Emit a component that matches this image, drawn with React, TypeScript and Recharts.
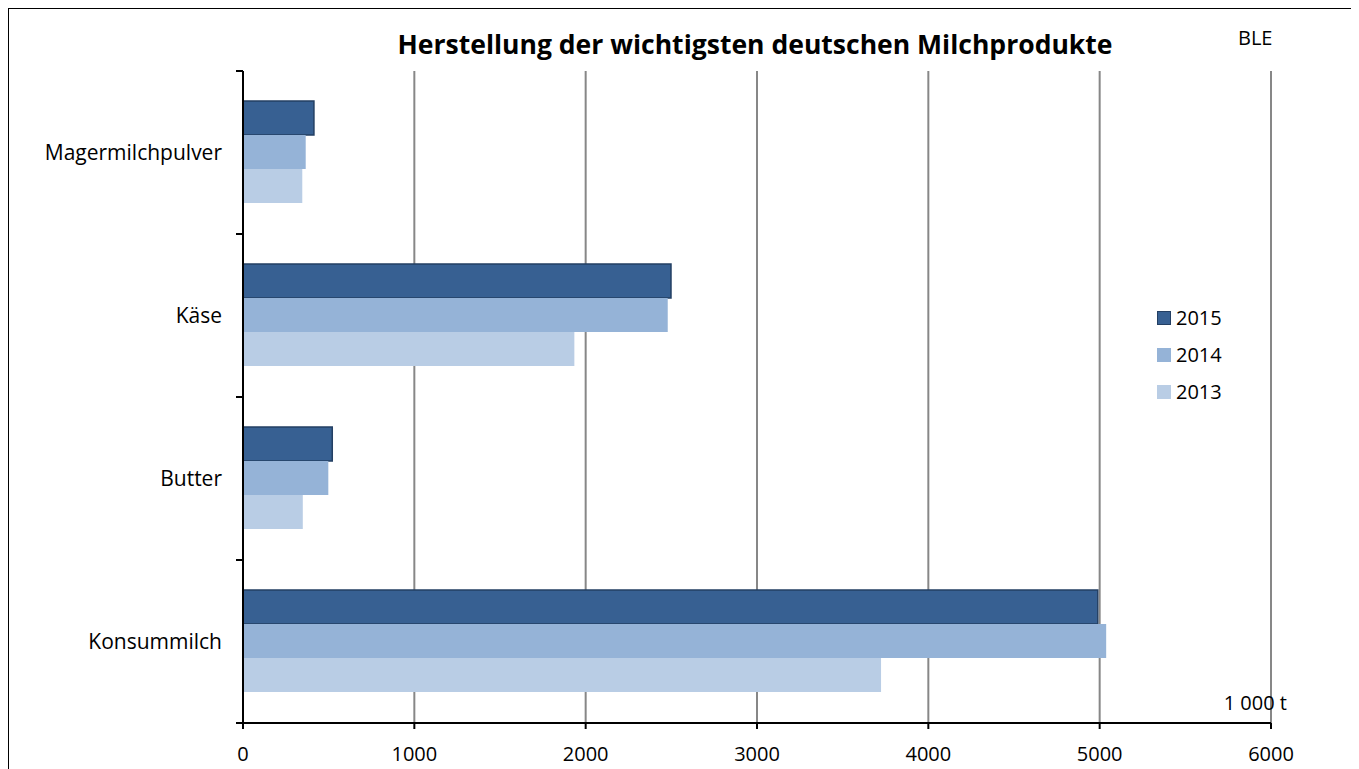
import React from 'react';
import { BarChart, Bar, XAxis, YAxis, CartesianGrid, Legend } from 'recharts';

const categories = ['Magermilchpulver', 'Käse', 'Butter', 'Konsummilch'];
const v2015 = [414, 2498, 521, 4989];
const v2014 = [366, 2479, 498, 5038];
const v2013 = [346, 1934, 349, 3724];
const years = ['2015', '2014', '2013'];
const xTicks = [0, 1000, 2000, 3000, 4000, 5000, 6000];
const title = 'Herstellung der wichtigsten deutschen Milchprodukte';
const sourceLabel = 'BLE';
const unitLabel = '1 000 t';

const colors: Record<string, string> = { '2015': '#376092', '2014': '#95B3D7', '2013': '#B9CDE5' };
const strokes: Record<string, string> = { '2015': '#233f63', '2014': 'none', '2013': 'none' };

const data = categories.map((c, i) => ({ name: c, '2015': v2015[i], '2014': v2014[i], '2013': v2013[i] }));

const FONT = '"Open Sans", sans-serif';
const TICK_MARGIN = 21;

const CategoryTick = (props: any) => {
  const { x, y, payload } = props;
  const axisX = x + TICK_MARGIN;
  const half = payload && typeof payload.offset === 'number' ? payload.offset : 0;
  return (
    <g>
      <text x={x} y={y} dy="0.355em" textAnchor="end" fontSize={21} fill="#000">
        {payload.value}
      </text>
      {half > 0 && (
        <>
          <line x1={axisX - 7} x2={axisX} y1={y - half} y2={y - half} stroke="#000" strokeWidth={2} />
          <line x1={axisX - 7} x2={axisX} y1={y + half} y2={y + half} stroke="#000" strokeWidth={2} />
        </>
      )}
    </g>
  );
};

const renderLegend = (props: any) => {
  const payload = [...(props.payload || [])].sort(
    (a: any, b: any) => years.indexOf(String(a.value)) - years.indexOf(String(b.value))
  );
  return (
    <div style={{ fontFamily: FONT }}>
      {payload.map((p: any) => (
        <div key={p.value} style={{ display: 'flex', alignItems: 'center', height: 37 }}>
          <span
            style={{
              display: 'inline-block',
              width: 14,
              height: 14,
              boxSizing: 'border-box',
              background: colors[p.value],
              border: p.value === '2015' ? '1.5px solid #233f63' : 'none',
              marginRight: 5,
            }}
          />
          <span style={{ fontSize: 20, color: '#000' }}>{p.value}</span>
        </div>
      ))}
    </div>
  );
};

export default function App() {
  return (
    <div style={{ position: 'relative', width: 1347, height: 761, fontFamily: FONT }}>
      <BarChart
        width={1347}
        height={761}
        data={data}
        layout="vertical"
        margin={{ top: 63, right: 84, left: 0, bottom: 0 }}
        barCategoryGap="18.4%"
        barGap={0}
      >
        <CartesianGrid horizontal={false} vertical stroke="#878787" strokeWidth={2} />
        <YAxis
          type="category"
          dataKey="name"
          width={235}
          tickSize={0}
          tickMargin={TICK_MARGIN}
          tickLine={false}
          axisLine={{ stroke: '#000', strokeWidth: 2 }}
          tick={<CategoryTick />}
        />
        <XAxis
          type="number"
          domain={[0, 6000]}
          ticks={xTicks}
          height={46}
          tickSize={6}
          tickMargin={18}
          tickLine={{ stroke: '#000', strokeWidth: 2 }}
          axisLine={{ stroke: '#000', strokeWidth: 2 }}
          tick={{ fill: '#000', fontSize: 20 }}
        />
        <Legend
          layout="vertical"
          align="center"
          verticalAlign="middle"
          content={renderLegend}
          wrapperStyle={{ left: 1149, top: 291, width: 'auto', height: 'auto' }}
        />
        {years.map((y) => (
          <Bar
            key={y}
            dataKey={y}
            name={y}
            fill={colors[y]}
            stroke={strokes[y]}
            strokeWidth={1.5}
            isAnimationActive={false}
          />
        ))}
        <text x={747} y={46} textAnchor="middle" fontSize={27} fontWeight="bold" fill="#000" textLength={715} lengthAdjust="spacingAndGlyphs">
          {title}
        </text>
        <text x={1230} y={37} fontSize={20} fill="#000">
          {sourceLabel}
        </text>
        <text x={1279} y={702} textAnchor="end" fontSize={20} fill="#000">
          {unitLabel}
        </text>
      </BarChart>
      <div
        style={{
          position: 'absolute',
          left: -1,
          top: -1,
          width: 1348,
          height: 800,
          border: '2px solid #000',
          boxSizing: 'border-box',
          pointerEvents: 'none',
        }}
      />
    </div>
  );
}
